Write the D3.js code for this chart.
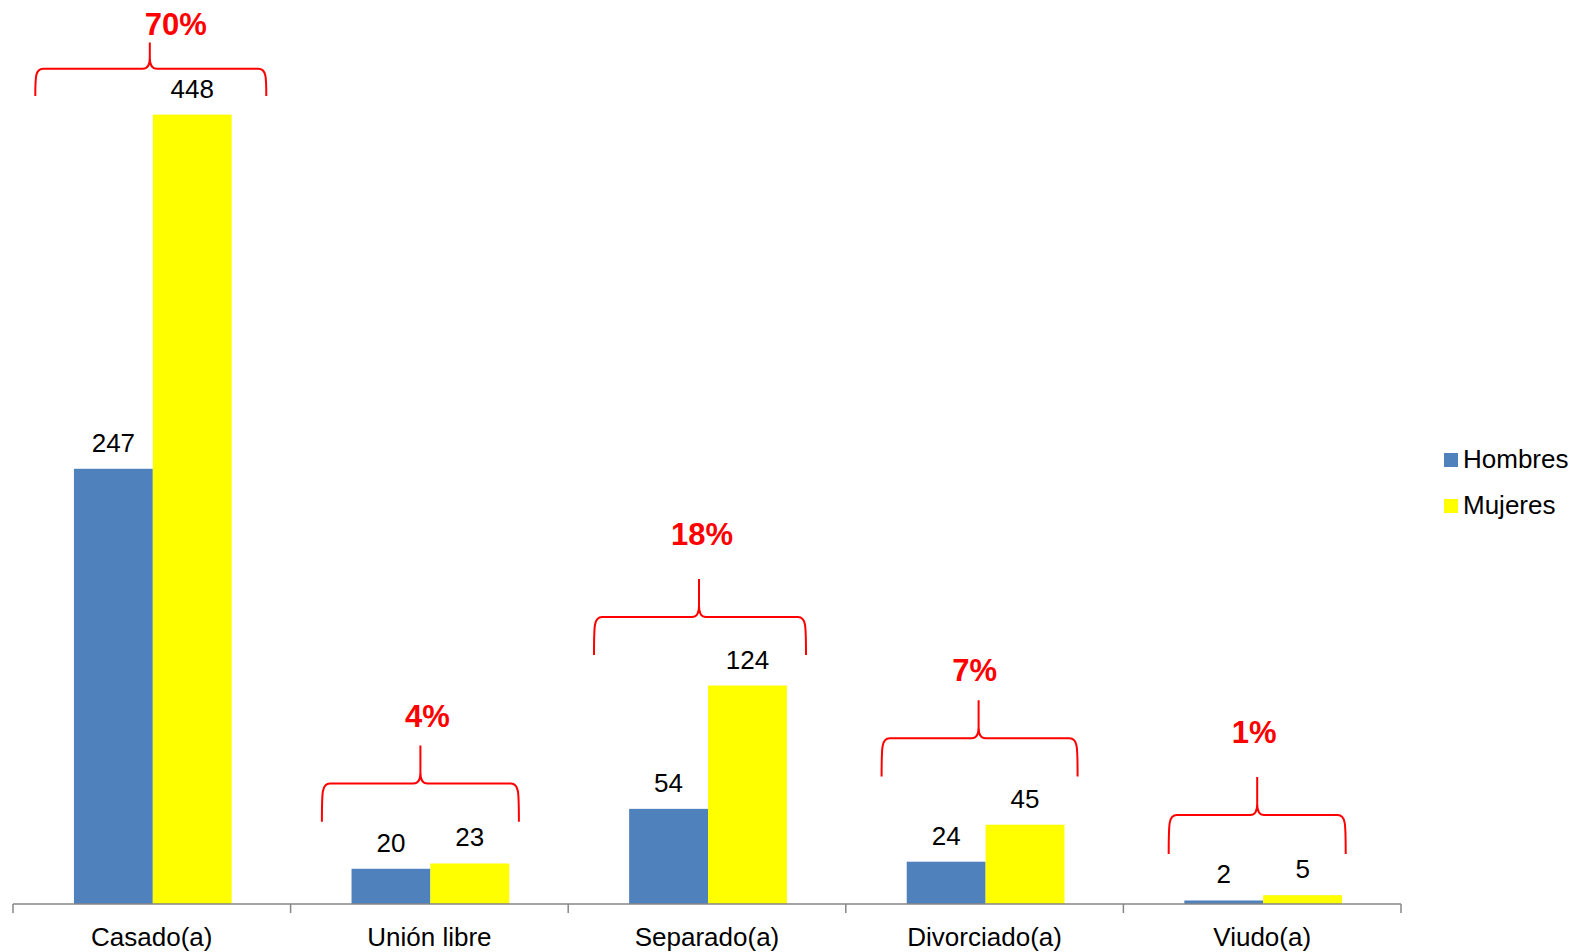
<!DOCTYPE html>
<html>
<head>
<meta charset="utf-8">
<script src="https://cdn.jsdelivr.net/npm/d3@7"></script>
<style>
  html, body { margin: 0; padding: 0; background: #fff; }
  svg { display: block; font-family: "Liberation Sans", Arial, sans-serif; }
</style>
</head>
<body>
<svg id="chart" width="1575" height="952"></svg>
<script>
// ---- data ----
const categories = ["Casado(a)", "Unión libre", "Separado(a)", "Divorciado(a)", "Viudo(a)"];
const seriesNames = ["Hombres", "Mujeres"];
const hombres = [247, 20, 54, 24, 2];
const mujeres = [448, 23, 124, 45, 5];
const seriesColors = ["#4F81BD", "#FFFF00"];

// ---- annotation layout (brace levels in value units, x offsets in px) ----
const braceTipLevel = [489, 90, 184.5, 115.7, 72.1];
const braceMidLevel = [474, 68.4, 162.9, 94.0, 50.5];
const braceEndLevel = [458.6, 46.7, 141.3, 72.4, 28.4];
const pctLevel      = [493.2, 100.5, 203.7, 126.6, 91.4];
const braceShift    = [-1, -9, -7, -5, -5];
const braceWidth    = [231, 197, 212, 196, 177];
const tipShift      = [-2, -9, -8, -6, -5];
const pctShift      = [24, -2, -5, -10, -8];

const values = [hombres, mujeres];
const totals = categories.map((c, i) => hombres[i] + mujeres[i]);
const grand = d3.sum(totals);

const svg = d3.select("#chart");

const x0 = d3.scaleBand().domain(categories).range([13, 1401]).padding(0);
const x1 = d3.scaleBand().domain(seriesNames).range([0, x0.bandwidth()]).paddingInner(0).paddingOuter(0.76);
const y = d3.scaleLinear().domain([0, 500]).range([904, 23]);

// bars
const groups = svg.append("g").selectAll("g").data(categories).join("g")
  .attr("transform", d => `translate(${x0(d) + 1},0)`);

seriesNames.forEach((s, si) => {
  groups.append("rect")
    .attr("x", x1(s))
    .attr("width", x1.bandwidth())
    .attr("y", (d, i) => y(values[si][i]))
    .attr("height", (d, i) => y(0) - y(values[si][i]))
    .attr("fill", seriesColors[si]);
  groups.append("text")
    .attr("x", x1(s) + x1.bandwidth() / 2)
    .attr("y", (d, i) => y(values[si][i]) - 17)
    .attr("text-anchor", "middle")
    .attr("font-size", 26)
    .attr("fill", "#000")
    .text((d, i) => values[si][i]);
});

// x axis
const axisG = svg.append("g").attr("transform", `translate(0,${y(0)})`);
axisG.append("line").attr("x1", 13).attr("x2", 1401).attr("y1", 0).attr("y2", 0)
  .attr("stroke", "#868686").attr("stroke-width", 1.5);
const edges = categories.map(c => x0(c)).concat([x0.range()[1]]);
axisG.selectAll("line.tick").data(edges).join("line").attr("class", "tick")
  .attr("x1", d => d).attr("x2", d => d).attr("y1", 0).attr("y2", 9)
  .attr("stroke", "#868686").attr("stroke-width", 1.5);
const xAxis = d3.axisBottom(x0).tickSize(0).tickPadding(0);
const ax = svg.append("g").attr("transform", `translate(0,${y(0)})`).call(xAxis);
ax.select(".domain").remove();
ax.selectAll("text").attr("font-size", 26).attr("font-family", "Liberation Sans, Arial, sans-serif")
  .attr("fill", "#000").attr("dy", null).attr("y", 42);

// braces + percentages
function bracePath(i) {
  const cx = x0(categories[i]) + x0.bandwidth() / 2 + braceShift[i];
  const tx = x0(categories[i]) + x0.bandwidth() / 2 + tipShift[i];
  const l = cx - braceWidth[i] / 2, r = cx + braceWidth[i] / 2;
  const yt = y(braceTipLevel[i]), ym = y(braceMidLevel[i]), ye = y(braceEndLevel[i]);
  const c = 8, cw = 7, ch = 11;
  return `M${l},${ye} C${l},${ym + c} ${l},${ym} ${l + c},${ym} L${tx - cw},${ym} Q${tx},${ym} ${tx},${ym - ch} L${tx},${yt}` +
         ` M${tx},${ym - ch} Q${tx},${ym} ${tx + cw},${ym} L${r - c},${ym} C${r},${ym} ${r},${ym + c} ${r},${ye}`;
}
const ann = svg.append("g");
categories.forEach((c, i) => {
  ann.append("path").attr("d", bracePath(i)).attr("fill", "none")
    .attr("stroke", "#FF0000").attr("stroke-width", 2);
  ann.append("text")
    .attr("x", x0(c) + x0.bandwidth() / 2 + pctShift[i])
    .attr("y", y(pctLevel[i]))
    .attr("text-anchor", "middle")
    .attr("font-size", 31).attr("font-weight", "bold").attr("fill", "#FF0000")
    .text(Math.round(totals[i] / grand * 100) + "%");
});

// legend
const legend = svg.append("g");
seriesNames.forEach((s, i) => {
  const ly = 453 + i * 46;
  legend.append("rect").attr("x", 1444).attr("y", ly).attr("width", 14).attr("height", 14).attr("fill", seriesColors[i]);
  legend.append("text").attr("x", 1463).attr("y", ly + 15).attr("font-size", 26).attr("fill", "#000").text(s);
});
</script>
</body>
</html>
